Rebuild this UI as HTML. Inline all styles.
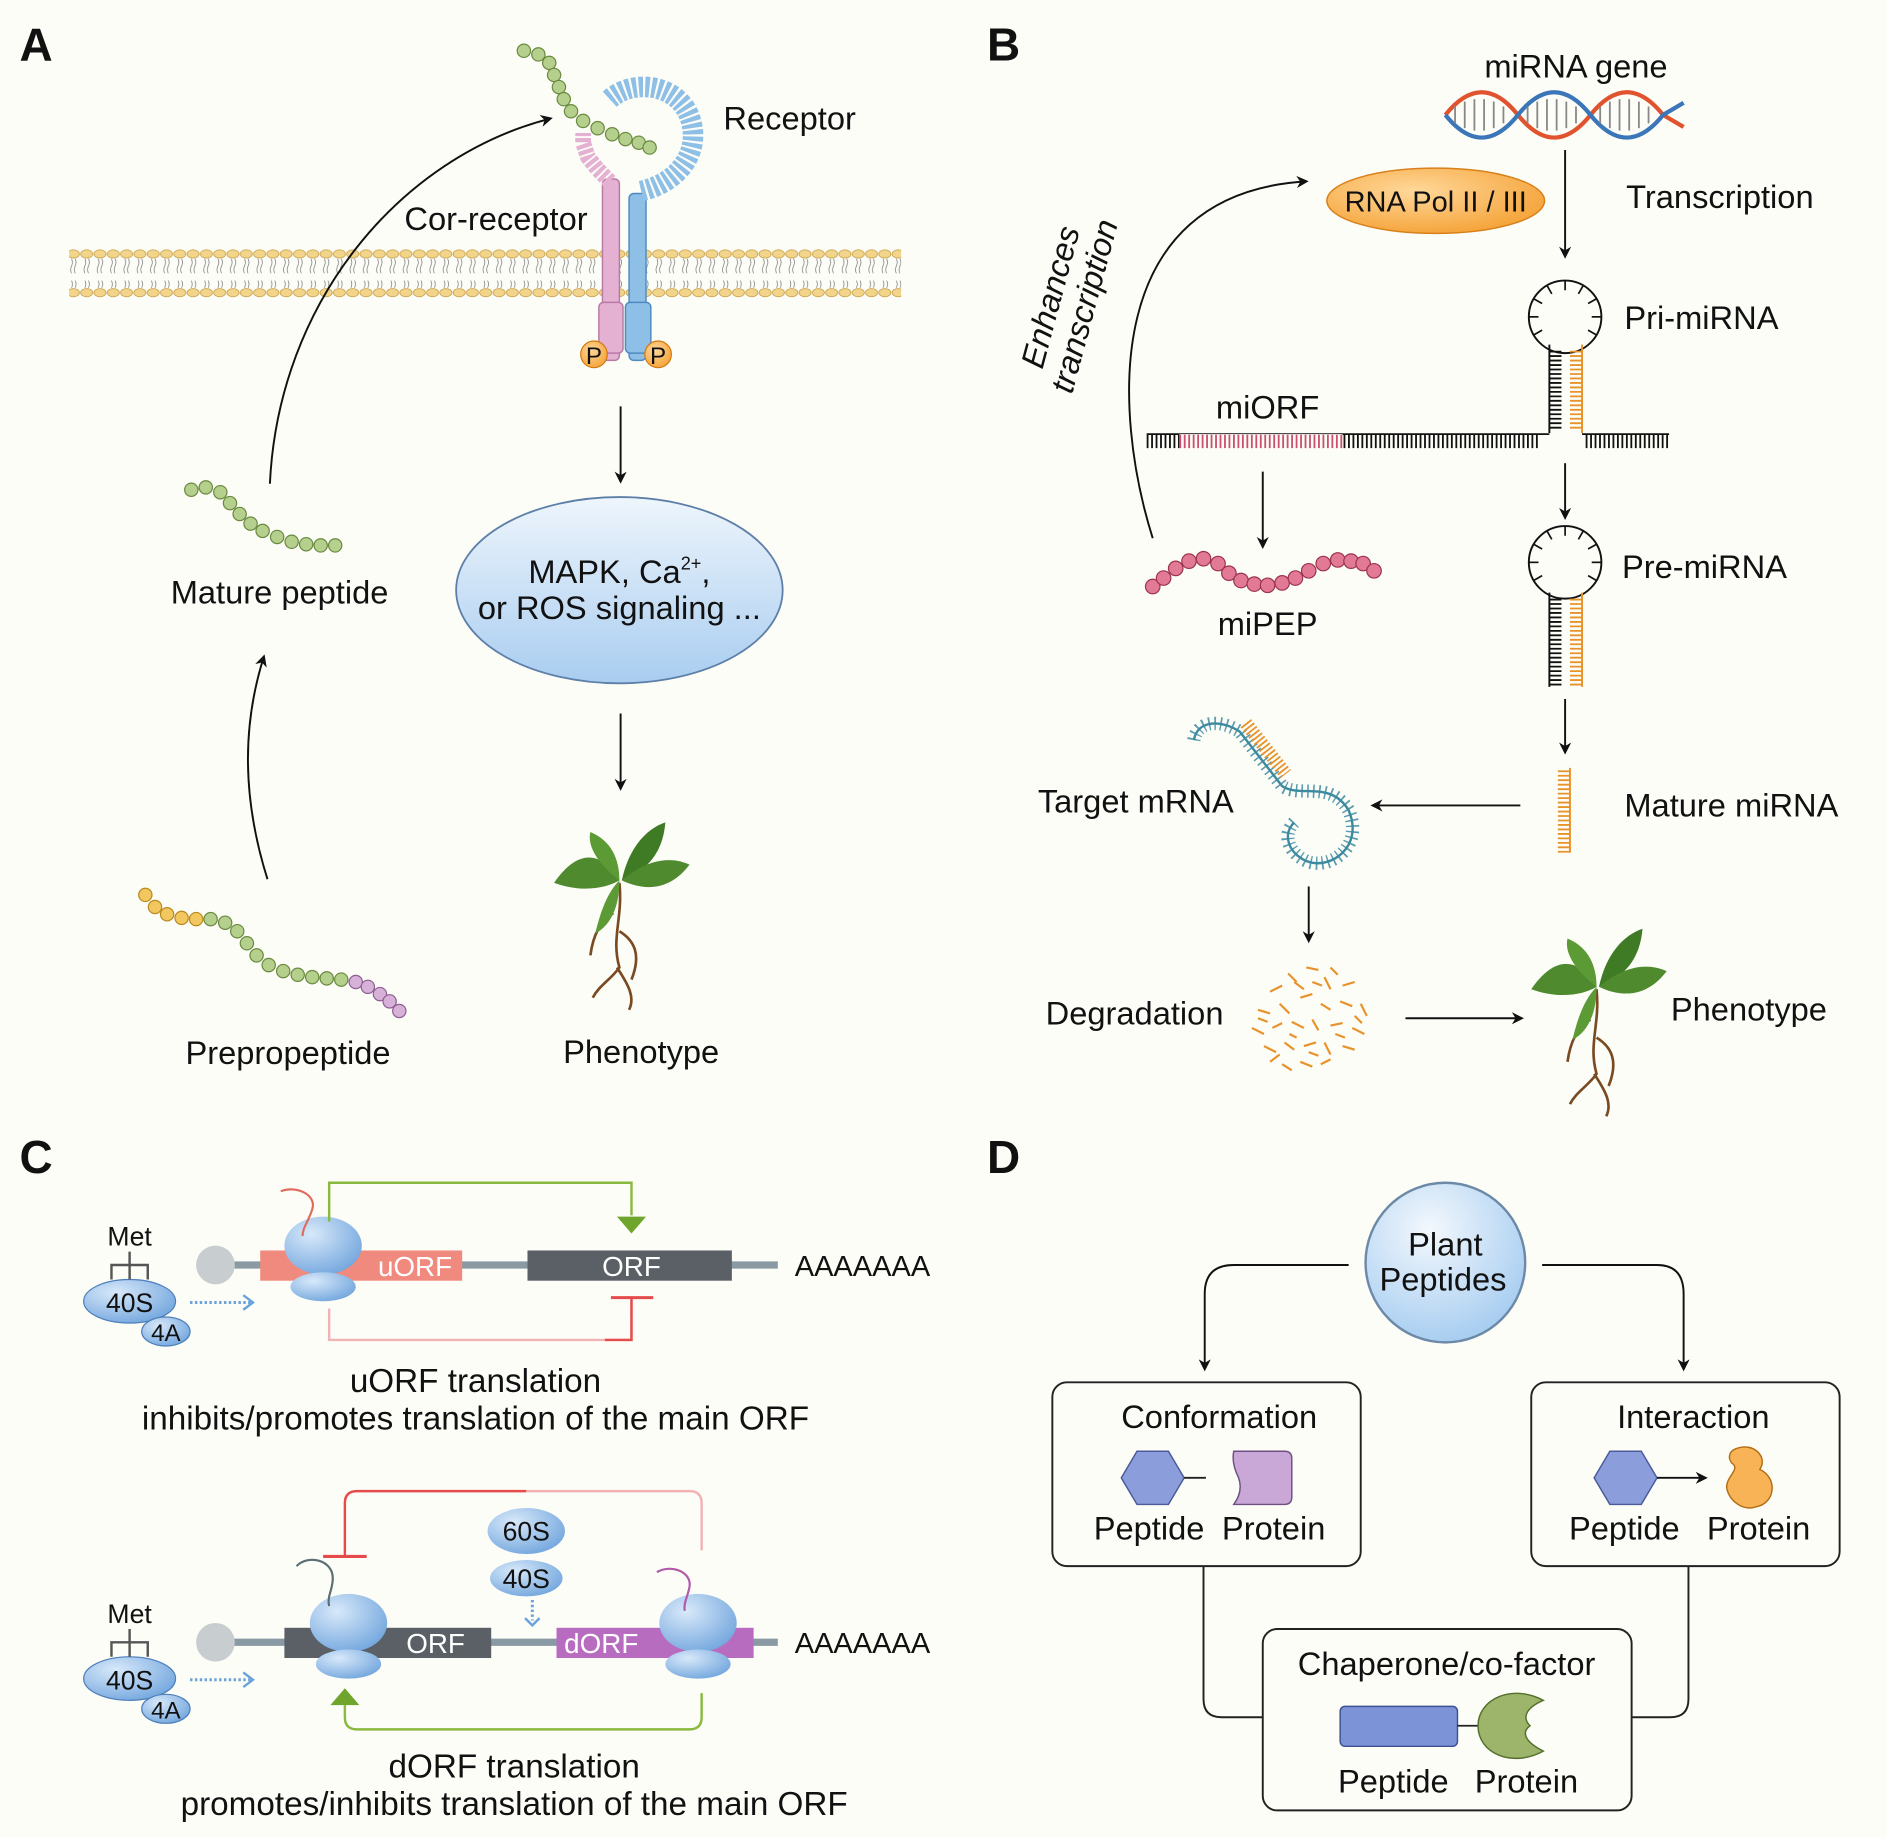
<!DOCTYPE html>
<html><head><meta charset="utf-8"><style>
html,body{margin:0;padding:0;background:#fdfdf8}
svg{display:block}
text{font-family:"Liberation Sans",Arial,sans-serif;fill:#111}
</style></head><body>
<svg width="1887" height="1837" viewBox="0 0 1560 1519" xmlns="http://www.w3.org/2000/svg">
<defs>
<marker id="ah" markerWidth="10" markerHeight="10" refX="8" refY="5" orient="auto" markerUnits="userSpaceOnUse"><path d="M0,0 L10,5 L0,10 L3,5z" fill="#111"/></marker>
<radialGradient id="bl" cx="0.4" cy="0.3" r="0.8"><stop offset="0" stop-color="#f3f8fd"/><stop offset="1" stop-color="#9ec8ef"/></radialGradient>
<linearGradient id="bl2" x1="0" y1="0" x2="0" y2="1"><stop offset="0" stop-color="#eef5fc"/><stop offset="1" stop-color="#a9cdf0"/></linearGradient>
<radialGradient id="rb" cx="0.35" cy="0.3" r="0.8"><stop offset="0" stop-color="#d8e9fa"/><stop offset="1" stop-color="#6ea3dc"/></radialGradient>
<radialGradient id="or" cx="0.4" cy="0.35" r="0.8"><stop offset="0" stop-color="#ffd89a"/><stop offset="1" stop-color="#f39a28"/></radialGradient>
<pattern id="lip" x="0" y="206" width="11" height="40" patternUnits="userSpaceOnUse">
<ellipse cx="5.5" cy="4" rx="5" ry="3.4" fill="#f2d48a" stroke="#c9a24e" stroke-width="0.7"/>
<ellipse cx="5.5" cy="36" rx="5" ry="3.4" fill="#f2d48a" stroke="#c9a24e" stroke-width="0.7"/>
<path d="M4,8 q1.5,3 0,6 q-1.5,3 0,6 M7,8 q1.5,3 0,6 q-1.5,3 0,6 M4,32 q1.5,-3 0,-6 M7,32 q1.5,-3 0,-6" stroke="#777" stroke-width="0.6" fill="none"/>
</pattern>
</defs>

<text x="16" y="50" font-size="38" font-weight="bold">A</text>
<text x="816" y="50" font-size="38" font-weight="bold">B</text>
<text x="16" y="970" font-size="38" font-weight="bold">C</text>
<text x="816" y="970" font-size="38" font-weight="bold">D</text>

<!-- ===== Panel A ===== -->
<rect x="57" y="206" width="688" height="40" fill="url(#lip)"/>
<g fill="#e4b1d3" stroke="#b87aa5" stroke-width="1.2">
<rect x="498" y="148" width="14" height="150" rx="4"/>
<rect x="495" y="250" width="20" height="42" rx="4"/>
</g>
<path d="M504,150 l-10,-10 l-8,-10 l-4,-12 l0,-8" stroke="#e4b1d3" stroke-width="13" fill="none" stroke-dasharray="3.5 1.5"/>
<g fill="#8ebfe6" stroke="#4d8ac2" stroke-width="1.2">
<rect x="520" y="160" width="14" height="138" rx="4"/>
<rect x="517" y="250" width="21" height="42" rx="4"/>
</g>
<path d="M530,158 C565,150 582,120 568,92 C555,68 520,66 503,83" stroke="#8ebfe6" stroke-width="17" fill="none" stroke-dasharray="3.5 1.8"/>
<circle cx="491" cy="293" r="11" fill="url(#or)" stroke="#d07a10"/><text x="491" y="301" font-size="20" text-anchor="middle">P</text>
<circle cx="544" cy="293" r="11" fill="url(#or)" stroke="#d07a10"/><text x="544" y="301" font-size="20" text-anchor="middle">P</text>
<g fill="#b5d08d" stroke="#6a8a3f" stroke-width="1">
<circle cx="433" cy="42" r="5.5"/><circle cx="445" cy="45" r="5.5"/><circle cx="454" cy="52" r="5.5"/><circle cx="458" cy="62" r="5.5"/><circle cx="462" cy="72" r="5.5"/><circle cx="466" cy="82" r="5.5"/><circle cx="472" cy="92" r="5.5"/><circle cx="482" cy="100" r="5.5"/><circle cx="494" cy="106" r="5.5"/><circle cx="506" cy="111" r="5.5"/><circle cx="517" cy="115" r="5.5"/><circle cx="528" cy="118" r="5.5"/><circle cx="537" cy="122" r="5.5"/>
<circle cx="158" cy="405" r="5.5"/><circle cx="170" cy="403" r="5.5"/><circle cx="182" cy="407" r="5.5"/><circle cx="190" cy="416" r="5.5"/><circle cx="198" cy="425" r="5.5"/><circle cx="207" cy="433" r="5.5"/><circle cx="217" cy="439" r="5.5"/><circle cx="229" cy="444" r="5.5"/><circle cx="241" cy="448" r="5.5"/><circle cx="253" cy="450" r="5.5"/><circle cx="265" cy="451" r="5.5"/><circle cx="277" cy="451" r="5.5"/>
<circle cx="174" cy="760" r="5.5"/><circle cx="186" cy="763" r="5.5"/><circle cx="196" cy="770" r="5.5"/><circle cx="204" cy="780" r="5.5"/><circle cx="212" cy="790" r="5.5"/><circle cx="222" cy="798" r="5.5"/><circle cx="234" cy="803" r="5.5"/><circle cx="246" cy="806" r="5.5"/><circle cx="258" cy="808" r="5.5"/><circle cx="270" cy="809" r="5.5"/><circle cx="282" cy="810" r="5.5"/>
</g>
<g fill="#f3c760" stroke="#b88a20"><circle cx="120" cy="740" r="5.5"/><circle cx="128" cy="750" r="5.5"/><circle cx="138" cy="756" r="5.5"/><circle cx="150" cy="759" r="5.5"/><circle cx="162" cy="760" r="5.5"/></g>
<g fill="#d7b1d8" stroke="#8e5f93"><circle cx="294" cy="812" r="5.5"/><circle cx="304" cy="816" r="5.5"/><circle cx="314" cy="822" r="5.5"/><circle cx="322" cy="828" r="5.5"/><circle cx="330" cy="836" r="5.5"/></g>
<text x="410" y="190" font-size="27" text-anchor="middle">Cor-receptor</text>
<text x="598" y="107" font-size="27">Receptor</text>
<text x="231" y="499" font-size="27" text-anchor="middle">Mature peptide</text>
<text x="238" y="880" font-size="27" text-anchor="middle">Prepropeptide</text>
<text x="530" y="879" font-size="27" text-anchor="middle">Phenotype</text>
<path d="M223,400 C230,250 330,130 455,98" stroke="#111" stroke-width="1.6" fill="none" marker-end="url(#ah)"/>
<path d="M221,727 C200,660 200,600 218,543" stroke="#111" stroke-width="1.6" fill="none" marker-end="url(#ah)"/>
<line x1="513" y1="336" x2="513" y2="398" stroke="#111" stroke-width="1.6" marker-end="url(#ah)"/>
<line x1="513" y1="590" x2="513" y2="652" stroke="#111" stroke-width="1.6" marker-end="url(#ah)"/>
<ellipse cx="512" cy="488" rx="135" ry="77" fill="url(#bl2)" stroke="#5d7fa8" stroke-width="1.5"/>
<text x="512" y="482" font-size="27" text-anchor="middle">MAPK, Ca<tspan font-size="15" dy="-11">2+</tspan><tspan dy="11">,</tspan></text>
<text x="512" y="512" font-size="27" text-anchor="middle">or ROS signaling ...</text>
<g id="plantA">
<path d="M512,730 C515,760 505,775 512,800 C505,810 495,815 490,825 M512,770 C525,778 530,790 522,810 M510,800 C520,815 525,825 520,835 M507,755 C495,762 490,775 488,790" stroke="#7a4a22" stroke-width="2.2" fill="none"/>
<path d="M512,728 C495,700 475,705 458,730 C480,738 500,735 512,728z" fill="#4f8a2f"/>
<path d="M514,728 C520,700 535,685 550,680 C548,705 535,720 514,728z" fill="#3f7a25"/>
<path d="M512,728 C495,715 485,700 488,688 C505,695 512,710 512,728z" fill="#5c9a36"/>
<path d="M514,728 C535,710 555,708 570,715 C555,735 535,738 514,728z" fill="#4f8a2f"/>
<path d="M512,728 C500,740 495,760 492,772 C505,765 512,750 512,728z" fill="#5c9a36"/>
</g>

<!-- ===== Panel B ===== -->
<text x="1303" y="64" font-size="27" text-anchor="middle">miRNA gene</text>
<path d="M1195,95 C1215,70 1235,70 1255,95 S1295,120 1315,95 S1355,70 1375,95 L1392,105" stroke="#e0532e" stroke-width="3.5" fill="none"/>
<path d="M1195,95 C1215,120 1235,120 1255,95 S1295,70 1315,95 S1355,120 1375,95 L1392,85" stroke="#3a76b8" stroke-width="3.5" fill="none"/>
<g stroke="#888" stroke-width="1.5"><line x1="1203" y1="88" x2="1203" y2="102"/><line x1="1211" y1="84" x2="1211" y2="106"/><line x1="1219" y1="82" x2="1219" y2="108"/><line x1="1227" y1="82" x2="1227" y2="108"/><line x1="1235" y1="84" x2="1235" y2="106"/><line x1="1243" y1="88" x2="1243" y2="102"/><line x1="1263" y1="88" x2="1263" y2="102"/><line x1="1271" y1="84" x2="1271" y2="106"/><line x1="1279" y1="82" x2="1279" y2="108"/><line x1="1287" y1="82" x2="1287" y2="108"/><line x1="1295" y1="84" x2="1295" y2="106"/><line x1="1303" y1="88" x2="1303" y2="102"/><line x1="1323" y1="88" x2="1323" y2="102"/><line x1="1331" y1="84" x2="1331" y2="106"/><line x1="1339" y1="82" x2="1339" y2="108"/><line x1="1347" y1="82" x2="1347" y2="108"/><line x1="1355" y1="84" x2="1355" y2="106"/><line x1="1363" y1="88" x2="1363" y2="102"/></g>
<ellipse cx="1187" cy="166" rx="90" ry="27" fill="url(#or)" stroke="#d9801a" stroke-width="1.2"/>
<text x="1187" y="175" font-size="24" text-anchor="middle">RNA Pol II / III</text>
<text x="1422" y="172" font-size="27" text-anchor="middle">Transcription</text>
<line x1="1294" y1="124" x2="1294" y2="212" stroke="#111" stroke-width="1.6" marker-end="url(#ah)"/>
<text transform="translate(885,250) rotate(-75)" font-size="27" font-style="italic" text-anchor="middle"><tspan x="0" y="-8">Enhances</tspan><tspan x="0" y="21">transcription</tspan></text>
<path d="M953,445 C920,340 910,160 1080,150" stroke="#111" stroke-width="1.6" fill="none" marker-end="url(#ah)"/>
<circle cx="1294" cy="262" r="30" fill="none" stroke="#111" stroke-width="1.6"/>
<g stroke="#111" stroke-width="1.4"><line x1="1294" y1="232" x2="1294" y2="240"/><line x1="1309" y1="236" x2="1305" y2="243"/><line x1="1320" y1="247" x2="1313" y2="251"/><line x1="1324" y1="262" x2="1316" y2="262"/><line x1="1320" y1="277" x2="1313" y2="273"/><line x1="1279" y1="236" x2="1283" y2="243"/><line x1="1268" y1="247" x2="1275" y2="251"/><line x1="1264" y1="262" x2="1272" y2="262"/><line x1="1268" y1="277" x2="1275" y2="273"/></g>
<line x1="1281" y1="285" x2="1281" y2="358" stroke="#111" stroke-width="1.6"/>
<line x1="1286" y1="290" x2="1286" y2="356" stroke="#111" stroke-width="10" stroke-dasharray="1.5 2.2"/>
<line x1="1308" y1="285" x2="1308" y2="358" stroke="#e8922a" stroke-width="1.6"/>
<line x1="1303" y1="290" x2="1303" y2="356" stroke="#e8922a" stroke-width="10" stroke-dasharray="1.5 2.2"/>
<path d="M948,359 H1281 M1308,359 H1380" stroke="#111" stroke-width="1.4"/>
<line x1="948" y1="365" x2="1273" y2="365" stroke="#111" stroke-width="11" stroke-dasharray="1.5 2.2"/>
<line x1="975" y1="365" x2="1110" y2="365" stroke="#fdfdf8" stroke-width="12"/>
<line x1="975" y1="365" x2="1110" y2="365" stroke="#c9506f" stroke-width="11" stroke-dasharray="1.5 2.2"/>
<line x1="1311" y1="365" x2="1380" y2="365" stroke="#111" stroke-width="11" stroke-dasharray="1.5 2.2"/>
<text x="1048" y="346" font-size="27" text-anchor="middle">miORF</text>
<text x="1343" y="272" font-size="27">Pri-miRNA</text>
<line x1="1294" y1="383" x2="1294" y2="428" stroke="#111" stroke-width="1.6" marker-end="url(#ah)"/>
<line x1="1044" y1="390" x2="1044" y2="452" stroke="#111" stroke-width="1.6" marker-end="url(#ah)"/>
<g fill="#e27a95" stroke="#9b3350"><circle cx="953" cy="485" r="6"/><circle cx="962" cy="478" r="6"/><circle cx="972" cy="470" r="6"/><circle cx="983" cy="464" r="6"/><circle cx="995" cy="462" r="6"/><circle cx="1007" cy="466" r="6"/><circle cx="1016" cy="474" r="6"/><circle cx="1026" cy="480" r="6"/><circle cx="1037" cy="483" r="6"/><circle cx="1048" cy="484" r="6"/><circle cx="1060" cy="482" r="6"/><circle cx="1071" cy="478" r="6"/><circle cx="1082" cy="472" r="6"/><circle cx="1094" cy="466" r="6"/><circle cx="1106" cy="463" r="6"/><circle cx="1117" cy="464" r="6"/><circle cx="1127" cy="466" r="6"/><circle cx="1136" cy="472" r="6"/></g>
<text x="1048" y="525" font-size="27" text-anchor="middle">miPEP</text>
<circle cx="1294" cy="465" r="30" fill="none" stroke="#111" stroke-width="1.6"/>
<g stroke="#111" stroke-width="1.4"><line x1="1294" y1="435" x2="1294" y2="443"/><line x1="1309" y1="439" x2="1305" y2="446"/><line x1="1320" y1="450" x2="1313" y2="454"/><line x1="1324" y1="465" x2="1316" y2="465"/><line x1="1320" y1="480" x2="1313" y2="476"/><line x1="1279" y1="439" x2="1283" y2="446"/><line x1="1268" y1="450" x2="1275" y2="454"/><line x1="1264" y1="465" x2="1272" y2="465"/><line x1="1268" y1="480" x2="1275" y2="476"/></g>
<line x1="1281" y1="490" x2="1281" y2="568" stroke="#111" stroke-width="1.6"/>
<line x1="1286" y1="495" x2="1286" y2="568" stroke="#111" stroke-width="10" stroke-dasharray="1.5 2.2"/>
<line x1="1308" y1="490" x2="1308" y2="568" stroke="#e8922a" stroke-width="1.6"/>
<line x1="1303" y1="495" x2="1303" y2="568" stroke="#e8922a" stroke-width="10" stroke-dasharray="1.5 2.2"/>
<text x="1341" y="478" font-size="27">Pre-miRNA</text>
<line x1="1294" y1="578" x2="1294" y2="622" stroke="#111" stroke-width="1.6" marker-end="url(#ah)"/>
<line x1="1298" y1="635" x2="1298" y2="705" stroke="#e8922a" stroke-width="1.6"/>
<line x1="1293" y1="637" x2="1293" y2="705" stroke="#e8922a" stroke-width="10" stroke-dasharray="1.5 2.2"/>
<text x="1343" y="675" font-size="27">Mature miRNA</text>
<line x1="1257" y1="666" x2="1135" y2="666" stroke="#111" stroke-width="1.6" marker-end="url(#ah)"/>
<path d="M987,612 C990,595 1010,595 1025,605 L1060,650 C1075,660 1100,645 1115,670 C1128,700 1100,720 1080,712 C1065,705 1060,690 1070,680" stroke="#3d8aa0" stroke-width="2" fill="none"/>
<path d="M987,612 C990,595 1010,595 1025,605 L1060,650 C1075,660 1100,645 1115,670 C1128,700 1100,720 1080,712 C1065,705 1060,690 1070,680" stroke="#3d8aa0" stroke-width="11" fill="none" stroke-dasharray="1.3 3.5" opacity="0.85"/>
<line x1="1030" y1="598" x2="1063" y2="640" stroke="#e8922a" stroke-width="11" stroke-dasharray="1.5 2"/>
<text x="939" y="672" font-size="27" text-anchor="middle">Target mRNA</text>
<line x1="1082" y1="733" x2="1082" y2="778" stroke="#111" stroke-width="1.6" marker-end="url(#ah)"/>
<text x="938" y="847" font-size="27" text-anchor="middle">Degradation</text>
<g stroke="#e8922a" stroke-width="1.8">
<line x1="1050" y1="820" x2="1060" y2="815"/><line x1="1065" y1="805" x2="1072" y2="812"/><line x1="1080" y1="800" x2="1090" y2="802"/><line x1="1095" y1="808" x2="1100" y2="818"/><line x1="1110" y1="815" x2="1120" y2="812"/><line x1="1040" y1="835" x2="1050" y2="838"/><line x1="1058" y1="830" x2="1066" y2="838"/><line x1="1075" y1="825" x2="1085" y2="822"/><line x1="1092" y1="830" x2="1100" y2="835"/><line x1="1108" y1="828" x2="1118" y2="832"/><line x1="1125" y1="830" x2="1130" y2="840"/><line x1="1035" y1="850" x2="1045" y2="855"/><line x1="1052" y1="850" x2="1060" y2="846"/><line x1="1068" y1="845" x2="1078" y2="850"/><line x1="1085" y1="843" x2="1090" y2="852"/><line x1="1100" y1="848" x2="1110" y2="846"/><line x1="1118" y1="850" x2="1128" y2="855"/><line x1="1045" y1="865" x2="1055" y2="870"/><line x1="1062" y1="862" x2="1070" y2="868"/><line x1="1078" y1="865" x2="1088" y2="862"/><line x1="1095" y1="862" x2="1100" y2="872"/><line x1="1110" y1="865" x2="1120" y2="868"/><line x1="1060" y1="880" x2="1068" y2="885"/><line x1="1075" y1="878" x2="1085" y2="882"/><line x1="1092" y1="880" x2="1100" y2="876"/><line x1="1070" y1="812" x2="1078" y2="818"/><line x1="1100" y1="800" x2="1106" y2="806"/><line x1="1085" y1="812" x2="1093" y2="815"/><line x1="1048" y1="845" x2="1040" y2="842"/><line x1="1120" y1="840" x2="1126" y2="846"/><line x1="1066" y1="855" x2="1072" y2="858"/><line x1="1104" y1="855" x2="1112" y2="858"/><line x1="1082" y1="870" x2="1090" y2="873"/><line x1="1058" y1="872" x2="1050" y2="878"/>
</g>
<line x1="1162" y1="842" x2="1258" y2="842" stroke="#111" stroke-width="1.6" marker-end="url(#ah)"/>
<use href="#plantA" transform="translate(808,88)"/>
<text x="1446" y="844" font-size="27" text-anchor="middle">Phenotype</text>

<!-- ===== Panel C ===== -->
<g id="c1">
<line x1="180" y1="1046" x2="643" y2="1046" stroke="#8a9aa5" stroke-width="6"/>
<circle cx="178" cy="1046" r="16" fill="#c8cdd0"/>
<text x="713" y="1055" font-size="24" text-anchor="middle">AAAAAAA</text>
<ellipse cx="107" cy="1076" rx="38" ry="18" fill="url(#rb)" stroke="#4d7fba"/>
<ellipse cx="137" cy="1101" rx="20" ry="12" fill="url(#rb)" stroke="#4d7fba"/>
<text x="107" y="1085" font-size="22" text-anchor="middle">40S</text>
<text x="137" y="1109" font-size="20" text-anchor="middle">4A</text>
<text x="107" y="1030" font-size="22" text-anchor="middle">Met</text>
<path d="M107,1035 V1058 M92,1058 V1046 H122 V1058" stroke="#555" stroke-width="2" fill="none"/>
<line x1="157" y1="1077" x2="207" y2="1077" stroke="#6aa2db" stroke-width="2.5" stroke-dasharray="2 2"/>
<path d="M201,1071 L209,1077 L201,1083" stroke="#6aa2db" stroke-width="2" fill="none"/>
</g>
<rect x="215" y="1034" width="167" height="25" fill="#f08a7e"/>
<text x="343" y="1055" font-size="23" text-anchor="middle" style="fill:#fff">uORF</text>
<rect x="436" y="1034" width="169" height="25" fill="#5a6066"/>
<text x="522" y="1055" font-size="23" text-anchor="middle" style="fill:#fff">ORF</text>
<ellipse cx="267" cy="1030" rx="32" ry="24" fill="url(#rb)"/>
<ellipse cx="267" cy="1064" rx="27" ry="12" fill="url(#rb)"/>
<path d="M232,985 C245,980 262,988 258,1000 C255,1010 250,1015 250,1022" stroke="#e06c5e" stroke-width="1.8" fill="none"/>
<path d="M272,1010 V978 H522 V1005" stroke="#8ab93f" stroke-width="2" fill="none"/>
<path d="M510,1006 H534 L522,1020z" fill="#6fa52c"/>
<path d="M272,1082 V1108 H522 V1074" stroke="#f2b3b5" stroke-width="2" fill="none"/>
<path d="M522,1090 V1108 H500" stroke="#e54b4b" stroke-width="2" fill="none"/>
<line x1="522" y1="1074" x2="522" y2="1090" stroke="#e54b4b" stroke-width="2"/>
<line x1="505" y1="1073" x2="540" y2="1073" stroke="#e54b4b" stroke-width="2.5"/>
<text x="393" y="1151" font-size="27.5" text-anchor="middle">uORF translation</text>
<text x="393" y="1182" font-size="27.5" text-anchor="middle">inhibits/promotes translation of the main ORF</text>

<use href="#c1" transform="translate(0,312)"/>
<rect x="235" y="1346" width="171" height="25" fill="#5a6066"/>
<text x="360" y="1367" font-size="23" text-anchor="middle" style="fill:#fff">ORF</text>
<rect x="460" y="1346" width="163" height="25" fill="#b86cbf"/>
<text x="497" y="1367" font-size="23" text-anchor="middle" style="fill:#fff">dORF</text>
<ellipse cx="288" cy="1342" rx="32" ry="24" fill="url(#rb)"/>
<ellipse cx="288" cy="1376" rx="27" ry="12" fill="url(#rb)"/>
<ellipse cx="577" cy="1342" rx="32" ry="24" fill="url(#rb)"/>
<ellipse cx="577" cy="1376" rx="27" ry="12" fill="url(#rb)"/>
<path d="M245,1295 C255,1285 275,1290 275,1305 C275,1315 270,1320 272,1328" stroke="#5a6f76" stroke-width="1.8" fill="none"/>
<path d="M543,1300 C555,1293 572,1300 570,1312 C568,1322 565,1325 566,1332" stroke="#b05aaa" stroke-width="1.8" fill="none"/>
<ellipse cx="435" cy="1266" rx="32" ry="19" fill="url(#rb)"/>
<ellipse cx="435" cy="1305" rx="30" ry="15" fill="url(#rb)"/>
<text x="435" y="1274" font-size="22" text-anchor="middle">60S</text>
<text x="435" y="1313" font-size="22" text-anchor="middle">40S</text>
<path d="M440,1323 V1340" stroke="#6aa2db" stroke-width="2.5" stroke-dasharray="2 2"/>
<path d="M434,1338 L440,1344 L446,1338" stroke="#6aa2db" stroke-width="2" fill="none"/>
<path d="M435,1233 H570 Q580,1233 580,1243 V1282" stroke="#f2b3b5" stroke-width="2" fill="none"/>
<path d="M285,1286 V1243 Q285,1233 295,1233 H435" stroke="#e54b4b" stroke-width="2" fill="none"/>
<line x1="267" y1="1287" x2="303" y2="1287" stroke="#e54b4b" stroke-width="2.5"/>
<path d="M580,1400 V1420 Q580,1430 570,1430 H295 Q285,1430 285,1420 V1410" stroke="#8ab93f" stroke-width="2" fill="none"/>
<path d="M273,1410 H297 L285,1396z" fill="#6fa52c"/>
<text x="425" y="1470" font-size="27.5" text-anchor="middle">dORF translation</text>
<text x="425" y="1501" font-size="27.5" text-anchor="middle">promotes/inhibits translation of the main ORF</text>

<!-- ===== Panel D ===== -->
<circle cx="1195" cy="1044" r="66" fill="url(#bl)" stroke="#6c8aa8" stroke-width="2"/>
<text x="1195" y="1038" font-size="27" text-anchor="middle">Plant</text>
<text x="1193" y="1067" font-size="27" text-anchor="middle">Peptides</text>
<path d="M1115,1046 H1020 Q996,1046 996,1070 V1132" stroke="#111" stroke-width="1.6" fill="none" marker-end="url(#ah)"/>
<path d="M1275,1046 H1370 Q1392,1046 1392,1070 V1132" stroke="#111" stroke-width="1.6" fill="none" marker-end="url(#ah)"/>
<g fill="none" stroke="#222" stroke-width="1.6">
<rect x="870" y="1143" width="255" height="152" rx="12"/>
<rect x="1266" y="1143" width="255" height="152" rx="12"/>
<rect x="1044" y="1347" width="305" height="150" rx="12"/>
<path d="M995,1295 V1405 Q995,1420 1010,1420 H1044"/>
<path d="M1396,1295 V1405 Q1396,1420 1381,1420 H1349"/>
</g>
<text x="1008" y="1181" font-size="27" text-anchor="middle">Conformation</text>
<text x="1400" y="1181" font-size="27" text-anchor="middle">Interaction</text>
<text x="1196" y="1385" font-size="27" text-anchor="middle">Chaperone/co-factor</text>
<polygon points="927,1222 940,1200 966,1200 979,1222 966,1244 940,1244" fill="#8b9ddb" stroke="#4a5a9a" stroke-width="1.2"/>
<line x1="979" y1="1222" x2="997" y2="1222" stroke="#222" stroke-width="1.5"/>
<path d="M1020,1200 H1062 Q1068,1200 1068,1206 V1238 Q1068,1244 1062,1244 H1020 Q1028,1233 1024,1222 Q1018,1210 1020,1200z" fill="#c9a8d8" stroke="#6e4f82" stroke-width="1.2"/>
<text x="950" y="1273" font-size="27" text-anchor="middle">Peptide</text>
<text x="1053" y="1273" font-size="27" text-anchor="middle">Protein</text>
<polygon points="1318,1222 1331,1200 1357,1200 1370,1222 1357,1244 1331,1244" fill="#8b9ddb" stroke="#4a5a9a" stroke-width="1.2"/>
<line x1="1370" y1="1222" x2="1410" y2="1222" stroke="#111" stroke-width="1.6" marker-end="url(#ah)"/>
<path d="M1435,1198 C1450,1192 1462,1205 1455,1215 C1470,1222 1468,1243 1452,1246 C1440,1250 1430,1240 1428,1232 C1425,1222 1440,1215 1432,1210 C1428,1205 1430,1200 1435,1198z" fill="#f7b355" stroke="#b06f15" stroke-width="1.2"/>
<text x="1343" y="1273" font-size="27" text-anchor="middle">Peptide</text>
<text x="1454" y="1273" font-size="27" text-anchor="middle">Protein</text>
<rect x="1108" y="1411" width="97" height="33" rx="4" fill="#7d93d8" stroke="#3e528f" stroke-width="1.2"/>
<line x1="1205" y1="1427" x2="1222" y2="1427" stroke="#222" stroke-width="1.5"/>
<path d="M1276,1406 C1250,1392 1222,1405 1222,1427 C1222,1450 1250,1462 1276,1448 C1260,1440 1258,1432 1265,1427 C1258,1420 1262,1412 1276,1406z" fill="#9cb56a" stroke="#55702c" stroke-width="1.2"/>
<text x="1152" y="1482" font-size="27" text-anchor="middle">Peptide</text>
<text x="1262" y="1482" font-size="27" text-anchor="middle">Protein</text>
</svg>
</body></html>
